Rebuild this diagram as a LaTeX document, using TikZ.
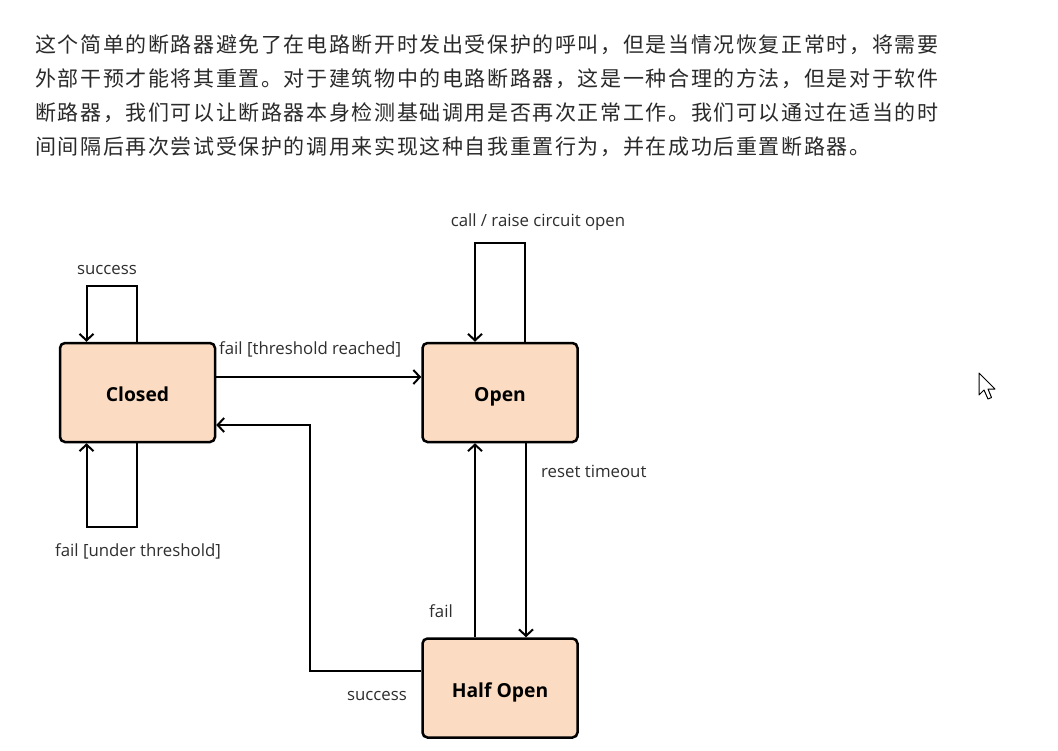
\documentclass[tikz,border=0pt]{standalone}
\usepackage{fontspec}
\setmainfont{Open Sans}
\newfontfamily\cjk[LetterSpace=7.7]{Noto Sans CJK SC}
\usetikzlibrary{arrows.meta,positioning,calc}
\definecolor{statefill}{HTML}{FBDCC2}
\definecolor{labeltext}{HTML}{2E2E2E}
\definecolor{paratext}{HTML}{2A2A2A}

\begin{document}
\begin{tikzpicture}[x=1pt,y=-1pt,
  statebox/.style={draw,line width=2.5pt,rounded corners=5pt,fill=statefill,
    minimum width=155pt,minimum height=99pt,inner sep=0pt,
    text height=18pt,text depth=0pt,
    font=\fontsize{19.3}{21}\selectfont\bfseries},
  trans/.style={line width=2pt,-{Straight Barb[length=6.5pt,width=14pt,line width=2pt]}},
  lbl/.style={font=\fontsize{16.8}{19}\selectfont,text=labeltext,inner sep=0pt},
  paraline/.style={anchor=west,inner sep=0pt,text=paratext,
    font=\cjk\fontsize{21}{24}\selectfont}]
  \useasboundingbox[fill=white] (0,0) rectangle (1058,750);

  % paragraph above the diagram
  \node[paraline] (line1) at (35,45)  {这个简单的断路器避免了在电路断开时发出受保护的呼叫，但是当情况恢复正常时，将需要};
  \node[paraline] (line2) at (35,79)  {外部干预才能将其重置。对于建筑物中的电路断路器，这是一种合理的方法，但是对于软件};
  \node[paraline] (line3) at (35,113) {断路器，我们可以让断路器本身检测基础调用是否再次正常工作。我们可以通过在适当的时};
  \node[paraline] (line4) at (35,147) {间间隔后再次尝试受保护的调用来实现这种自我重置行为，并在成功后重置断路器。};

  % states
  \node[statebox] (closed)   at (137.5,392.5) {Closed};
  \node[statebox] (open)     at (500,392.5)   {Open};
  \node[statebox] (halfopen) at (500,688)     {Half Open};

  % Closed loops
  \draw[trans] ([xshift=-0.5pt]closed.north) -- ++(0,-56) -| ([xshift=-51pt]closed.north);
  \node[lbl] (succloop) at (107,270) {success};
  \draw[trans] ([xshift=-0.5pt]closed.south) -- ++(0,84) -| ([xshift=-51pt]closed.south);
  \node[lbl] (failunder) at (138,551) {fail [under threshold]};

  % Closed -> Open
  \draw[trans] ([yshift=15.5pt]closed.east) -- ([yshift=15.5pt]open.west);
  \node[lbl,anchor=west] (failreached) at (219,349) {fail [threshold reached]};

  % Open loop
  \draw[trans] ([xshift=25pt]open.north) -- ++(0,-99) -| ([xshift=-25pt]open.north);
  \node[lbl] (callraise) at (538,222) {call / raise circuit open};

  % Open <-> Half Open
  \draw[trans] ([xshift=26pt]open.south) -- ([xshift=26pt]halfopen.north);
  \node[lbl,anchor=west] (timeout) at (541,471) {reset timeout};
  \draw[trans] ([xshift=-25pt]halfopen.north) -- ([xshift=-25pt]open.south);
  \node[lbl] (failhalf) at (441,611) {fail};

  % Half Open -> Closed
  \draw[trans] ([yshift=17pt]halfopen.west) -- ++(-111,0) |- ([yshift=-32.5pt]closed.east);
  \node[lbl] (succhalf) at (377,696) {success};

  % mouse pointer
  \draw[line width=1pt,fill=white,line join=round]
    (979,373) -- (979,395) -- (984,390) -- (988,399) -- (991.5,397.5)
    -- (988,389) -- (995,389) -- cycle;
\end{tikzpicture}
\end{document}
